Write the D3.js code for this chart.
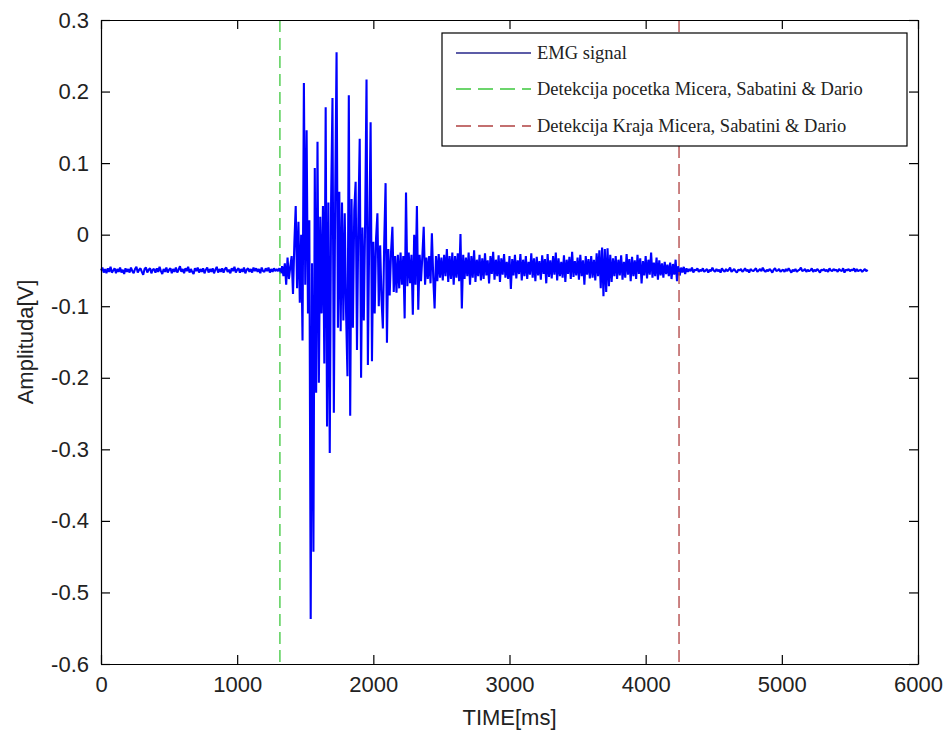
<!DOCTYPE html>
<html>
<head>
<meta charset="utf-8">
<script src="https://cdn.jsdelivr.net/npm/d3@7"></script>
<style>
  body { margin: 0; background: #fff; }
  .axis text { font-family: Arial, "Liberation Sans", sans-serif; font-size: 22px; fill: #222; }
  .axis path, .axis line { stroke: #000; stroke-width: 1.2; }
  .axis-label { font-family: Arial, "Liberation Sans", sans-serif; font-size: 22px; fill: #222; }
  .legend text { font-family: "Times New Roman", "Liberation Serif", serif; font-size: 18.5px; fill: #222; }
</style>
</head>
<body>
<svg id="chart"></svg>
<script>
// EMG samples, one every 10 ms starting at 0 ms (values in mV)
var sampleStep = 10;
var emgMv = [
  -50,-46,-53,-48,-54,-47,-52,-45,-53,-50,
  -47,-54,-48,-52,-46,-53,-49,-55,-47,-52,
  -48,-53,-46,-51,-54,-48,-45,-53,-49,-47,
  -52,-56,-48,-46,-53,-49,-47,-54,-49,-48,
  -53,-47,-52,-45,-51,-55,-48,-52,-46,-53,
  -49,-47,-54,-48,-52,-46,-53,-49,-44,-52,
  -48,-54,-47,-51,-45,-53,-48,-52,-55,-47,
  -51,-46,-53,-48,-52,-47,-54,-49,-46,-53,
  -48,-52,-47,-54,-49,-45,-53,-48,-52,-47,
  -53,-48,-46,-52,-49,-54,-47,-51,-45,-53,
  -49,-47,-53,-48,-52,-46,-54,-49,-47,-52,
  -48,-53,-46,-51,-47,-52,-48,-54,-46,-51,
  -52,-47,-51,-46,-53,-48,-52,-47,-51,-48,
  -51,-47,-54,-44,-58,-40,-70,-32,-62,-45,
  -30,-83,-12,40,-75,18,-95,0,-148,212,
  -70,146,-110,20,-537,-40,-443,93,-221,130,
  -207,25,-110,40,-180,178,-268,45,-305,50,
  191,-249,55,255,-130,60,-135,45,-120,30,
  -110,-198,195,-253,50,-130,35,74,-161,20,
  134,-200,10,-120,20,217,-182,0,157,-177,
  -10,-110,-5,30,-100,-15,-90,-131,-10,72,
  -151,-20,-85,-25,11,-80,-30,-81,-28,-75,
  -25,-70,-30,-117,59,-72,-25,-68,-28,-112,
  0,-70,40,-105,-28,-65,-30,11,-70,-32,
  -62,-30,-68,2,-60,-103,-30,-65,-27,-60,
  -32,-64,-28,-58,-20,-66,-30,-62,-25,-70,
  -30,-60,-26,-65,1,-103,-28,-62,-32,-58,
  -25,-70,-30,-60,-22,-66,-35,-58,-28,-64,
  -33,-62,-26,-57,-36,-68,-30,-55,-24,-63,
  -35,-58,-29,-66,-33,-56,-27,-60,-38,-62,
  -30,-76,-34,-57,-28,-61,-36,-55,-27,-64,
  -35,-58,-30,-62,-38,-56,-26,-60,-33,-65,
  -31,-57,-37,-63,-29,-55,-34,-68,-27,-59,
  -36,-61,-30,-56,-25,-64,-33,-58,-38,-60,
  -29,-66,-35,-55,-31,-62,-24,-59,-37,-57,
  -32,-63,-28,-58,-36,-70,-30,-56,-34,-61,
  -30,-60,-35,-64,-26,-58,-22,-75,-18,-86,
  -20,-80,-19,-72,-28,-66,-33,-58,-30,-62,
  -35,-57,-29,-63,-38,-60,-27,-56,-34,-65,
  -31,-58,-36,-62,-28,-55,-33,-68,-37,-57,
  -30,-61,-35,-56,-25,-60,-39,-58,-32,-63,
  -36,-57,-40,-60,-38,-55,-42,-58,-39,-62,
  -41,-56,-35,-65,-44,-57,-46,-53,-45,-55,
  -47,-52,-48,-51,-46,-53,-49,-50,-47,-52,
  -49,-51,-47,-52,-50,-48,-53,-49,-51,-46,
  -50,-52,-48,-51,-49,-53,-47,-50,-52,-48,
  -51,-49,-46,-52,-50,-48,-51,-53,-49,-50,
  -48,-52,-50,-47,-51,-49,-53,-48,-50,-51,
  -49,-47,-52,-50,-48,-51,-46,-50,-52,-49,
  -51,-48,-50,-53,-49,-47,-51,-50,-48,-52,
  -50,-49,-52,-48,-51,-47,-50,-53,-49,-51,
  -48,-52,-50,-49,-46,-51,-50,-48,-52,-49,
  -51,-50,-47,-52,-49,-51,-48,-50,-53,-49,
  -50,-48,-51,-49,-52,-47,-50,-51,-48,-50,
  -49,-52,-48,-50,-51,-47,-53,-49,-50,-48,
  -51,-49,-50,-47,-52,-48,-51,-50,-49,-52,
  -50,-48,-51,-49
];

// detected onset / offset times (ms)
var onsetTime = 1314;
var offsetTime = 4245;

var xTicks = [0, 1000, 2000, 3000, 4000, 5000, 6000];
var yTicks = [-0.6, -0.5, -0.4, -0.3, -0.2, -0.1, 0, 0.1, 0.2, 0.3];

var legendLabels = [
  'EMG signal',
  'Detekcija pocetka Micera, Sabatini & Dario',
  'Detekcija Kraja Micera, Sabatini & Dario'
];

var width = 946, height = 734;
var margin = {top: 20, right: 28, bottom: 70, left: 101};

var svg = d3.select('#chart')
  .attr('width', width)
  .attr('height', height);

var xScale = d3.scaleLinear()
  .domain([0, 6000])
  .range([margin.left, width - margin.right]);

var yScale = d3.scaleLinear()
  .domain([-0.6, 0.3])
  .range([height - margin.bottom, margin.top]);

function fmtY(d) {
  if (Math.abs(d) < 1e-9) return '0';
  return (Math.round(d * 10) / 10).toString();
}

// EMG trace
var line = d3.line()
  .x(function(d, i) { return xScale(i * sampleStep); })
  .y(function(d) { return yScale(d / 1000); });

svg.append('path')
  .datum(emgMv)
  .attr('fill', 'none')
  .attr('stroke', '#0000ff')
  .attr('stroke-width', 2.1)
  .attr('stroke-linejoin', 'bevel')
  .attr('d', line);

// onset / offset markers
svg.append('line')
  .attr('x1', xScale(onsetTime)).attr('x2', xScale(onsetTime))
  .attr('y1', yScale(0.3)).attr('y2', yScale(-0.6))
  .attr('stroke', '#3cc83c').attr('stroke-width', 1.3)
  .attr('stroke-dasharray', '12,6');

svg.append('line')
  .attr('x1', xScale(offsetTime)).attr('x2', xScale(offsetTime))
  .attr('y1', yScale(0.3)).attr('y2', yScale(-0.6))
  .attr('stroke', '#b04040').attr('stroke-width', 1.3)
  .attr('stroke-dasharray', '12,6');

// axes, MATLAB style: ticks inside on all four sides
svg.append('g')
  .attr('class', 'axis')
  .attr('transform', 'translate(0,' + (height - margin.bottom) + ')')
  .call(d3.axisBottom(xScale).tickValues(xTicks).tickSizeInner(-9).tickSizeOuter(0)
    .tickPadding(12).tickFormat(d3.format('d')));

svg.append('g')
  .attr('class', 'axis')
  .attr('transform', 'translate(0,' + margin.top + ')')
  .call(d3.axisTop(xScale).tickValues(xTicks).tickSizeInner(-9).tickSizeOuter(0).tickFormat(''));

svg.append('g')
  .attr('class', 'axis')
  .attr('transform', 'translate(' + margin.left + ',0)')
  .call(d3.axisLeft(yScale).tickValues(yTicks).tickSizeInner(-9).tickSizeOuter(0).tickPadding(12).tickFormat(fmtY));

svg.append('g')
  .attr('class', 'axis')
  .attr('transform', 'translate(' + (width - margin.right) + ',0)')
  .call(d3.axisRight(yScale).tickValues(yTicks).tickSizeInner(-9).tickSizeOuter(0).tickFormat(''));

// axis titles
svg.append('text')
  .attr('class', 'axis-label')
  .attr('x', (margin.left + width - margin.right) / 2)
  .attr('y', 725)
  .attr('text-anchor', 'middle')
  .text('TIME[ms]');

svg.append('text')
  .attr('class', 'axis-label')
  .attr('transform', 'translate(33,' + ((margin.top + height - margin.bottom) / 2) + ') rotate(-90)')
  .attr('text-anchor', 'middle')
  .text('Amplituda[V]');

// legend
var legend = svg.append('g').attr('class', 'legend');

legend.append('rect')
  .attr('x', 442).attr('y', 33)
  .attr('width', 465).attr('height', 113)
  .attr('fill', '#fff')
  .attr('stroke', '#000')
  .attr('stroke-width', 1.2);

var legendStyles = [
  {color: '#26268a', dash: null, y: 53},
  {color: '#3cc83c', dash: '15,7', y: 89},
  {color: '#b04040', dash: '15,7', y: 126}
];

legend.selectAll('g.item')
  .data(legendLabels)
  .enter()
  .append('g')
  .attr('class', 'item')
  .attr('transform', function(d, i) { return 'translate(0,' + legendStyles[i].y + ')'; })
  .each(function(d, i) {
    var g = d3.select(this);
    g.append('line')
      .attr('x1', 456).attr('x2', 531)
      .attr('y1', 0).attr('y2', 0)
      .attr('stroke', legendStyles[i].color)
      .attr('stroke-width', 1.5)
      .attr('stroke-dasharray', legendStyles[i].dash);
    g.append('text')
      .attr('x', 537)
      .attr('y', 0)
      .attr('dy', '0.35em')
      .text(d);
  });
</script>
</body>
</html>
